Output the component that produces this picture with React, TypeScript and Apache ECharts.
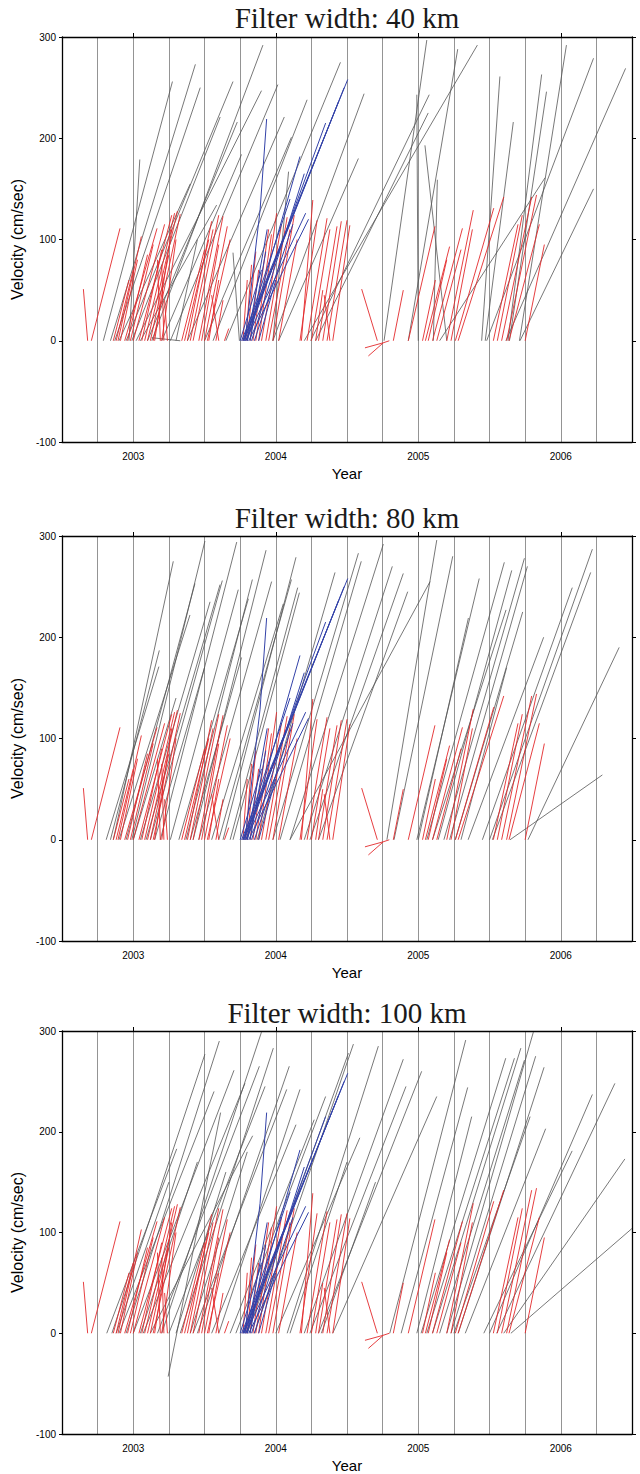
import React, { useEffect, useRef } from "react";
import * as echarts from "echarts";

// ---- data ----
const filterWidths = [40, 80, 100];
const yearLabels = [2003, 2004, 2005, 2006];

// segments: [startYear, startVelocity, endYear, endVelocity]
const redSegments = [
  [2002.65, 51, 2002.68, 0], [2002.706, 0, 2002.907, 111],
  [2002.86, 0, 2002.97, 60], [2002.88, 0, 2003.0, 70], [2002.893, 0, 2003.057, 103],
  [2002.91, 0, 2003.03, 80], [2002.94, 0, 2003.167, 111], [2002.96, 0, 2003.1, 85],
  [2002.98, 0, 2003.14, 95], [2003.0, 0, 2003.22, 115], [2003.04, 0, 2003.27, 124],
  [2003.06, 0, 2003.2, 90], [2003.08, 0, 2003.29, 126], [2003.1, 0, 2003.31, 128],
  [2003.12, 0, 2003.25, 85], [2003.14, 0, 2003.33, 125], [2003.17, 80, 2003.19, 0],
  [2003.2, 75, 2003.215, 0], [2003.15, 0, 2003.27, 110], [2003.2, 0, 2003.3, 100],
  [2003.22, 40, 2003.24, 0],
  [2003.34, 0, 2003.5, 90], [2003.36, 0, 2003.53, 100], [2003.38, 0, 2003.55, 118],
  [2003.4, 0, 2003.56, 110], [2003.42, 0, 2003.6, 124], [2003.46, 0, 2003.63, 123],
  [2003.48, 0, 2003.6, 95], [2003.5, 0, 2003.66, 113], [2003.52, 0, 2003.68, 100],
  [2003.53, 0, 2003.6, 60], [2003.55, 45, 2003.6, 0], [2003.58, 0, 2003.63, 40],
  [2003.64, 0, 2003.67, 12],
  [2003.77, 0, 2003.8, 60], [2003.79, 0, 2003.83, 75], [2003.8, 0, 2003.86, 88],
  [2003.82, 0, 2003.88, 70], [2003.84, 0, 2003.95, 110], [2003.86, 0, 2003.97, 105],
  [2003.88, 0, 2004.006, 126], [2003.9, 0, 2004.04, 115], [2003.93, 0, 2004.08, 122],
  [2003.95, 0, 2004.1, 110], [2003.98, 0, 2004.13, 124], [2004.02, 0, 2004.15, 100],
  [2004.17, 0, 2004.29, 119], [2004.18, 0, 2004.26, 139], [2004.22, 0, 2004.36, 121],
  [2004.25, 0, 2004.38, 110], [2004.3, 0, 2004.43, 113], [2004.33, 0, 2004.46, 118],
  [2004.36, 0, 2004.5, 119], [2004.4, 0, 2004.52, 114], [2004.34, 45, 2004.38, 0],
  [2004.28, 0, 2004.33, 50],
  [2004.603, 51, 2004.713, 0], [2004.626, -7, 2004.755, -2], [2004.65, -15, 2004.755, -2],
  [2004.755, -2, 2004.797, 0], [2004.825, 0, 2004.895, 50],
  [2004.93, 0, 2005.117, 113], [2005.03, 0, 2005.12, 60], [2005.05, 0, 2005.22, 93],
  [2005.07, 0, 2005.2, 80], [2005.1, 0, 2005.31, 111], [2005.13, 0, 2005.3, 90],
  [2005.2, 0, 2005.386, 129], [2005.23, 0, 2005.38, 110], [2005.26, 0, 2005.53, 131],
  [2005.28, 0, 2005.6, 142],
  [2005.527, 0, 2005.7, 115], [2005.555, 0, 2005.73, 124], [2005.585, 0, 2005.796, 142],
  [2005.62, 0, 2005.83, 144], [2005.637, 0, 2005.85, 115], [2005.75, 0, 2005.885, 95],
];

const blueSegments = [
  [2003.76, 0, 2004.505, 258], [2003.77, 0, 2004.48, 250], [2003.775, 0, 2004.44, 236],
  [2003.79, 0, 2004.35, 215], [2003.784, 0, 2003.89, 129], [2003.89, 129, 2003.936, 219],
  [2003.8, 0, 2004.17, 182], [2003.79, 0, 2004.21, 126], [2003.81, 0, 2004.23, 120],
  [2003.77, 0, 2004.1, 140], [2003.8, 0, 2003.94, 110], [2003.82, 0, 2003.93, 88],
  [2003.78, 0, 2004.05, 100], [2003.83, 0, 2004.2, 165], [2003.85, 0, 2004.12, 115],
  [2003.88, 0, 2004.0, 60], [2003.75, 0, 2003.9, 70],
];

const gray40 = [
  [2002.79, 0, 2003.275, 256], [2002.97, 0, 2003.046, 179], [2002.84, 0, 2003.436, 273],
  [2002.87, 0, 2003.47, 250], [2002.9, 0, 2003.4, 155], [2002.95, 0, 2003.7, 256],
  [2002.99, 0, 2003.61, 221], [2003.02, 0, 2003.9, 247], [2003.05, 0, 2003.585, 134],
  [2003.1, 0, 2003.73, 216], [2003.13, 0, 2003.91, 292], [2003.13, 3, 2003.33, 0],
  [2003.2, 0, 2003.76, 184], [2003.26, 0, 2004.015, 253], [2003.38, 0, 2004.06, 221],
  [2003.5, 0, 2004.11, 201], [2003.56, 0, 2004.22, 238], [2003.7, 87, 2003.745, 0],
  [2003.65, 0, 2004.454, 275], [2003.98, 0, 2004.62, 244], [2004.02, 0, 2004.58, 180],
  [2003.98, 0, 2004.09, 167], [2004.245, 0, 2005.077, 243], [2004.28, 0, 2005.07, 225],
  [2004.2, 0, 2005.415, 292], [2004.76, 0, 2005.06, 297], [2004.99, 243, 2005.0, 0],
  [2005.047, 193, 2005.2, 0], [2005.134, 159, 2005.106, 0], [2004.93, 0, 2005.277, 288],
  [2005.15, 0, 2005.89, 161], [2005.445, 0, 2005.573, 261], [2005.47, 0, 2005.667, 216],
  [2005.63, 0, 2005.866, 263], [2005.64, 0, 2005.9, 246], [2005.48, 0, 2006.23, 279],
  [2005.615, 0, 2006.455, 269], [2005.71, 0, 2006.04, 292], [2005.714, 0, 2006.23, 150],
  [2003.3, 0, 2003.45, 100],
];

const gray80 = [
  [2002.81, 0, 2003.18, 171], [2002.84, 0, 2003.183, 187], [2002.86, 0, 2003.281, 275],
  [2002.9, 0, 2003.398, 222], [2002.95, 0, 2003.433, 253], [2002.99, 0, 2003.503, 295],
  [2003.05, 0, 2003.539, 235], [2003.09, 0, 2003.609, 252], [2003.12, 0, 2003.625, 256],
  [2003.19, 0, 2003.726, 294], [2003.26, 0, 2003.737, 247], [2003.32, 0, 2003.808, 238],
  [2003.37, 0, 2003.836, 257], [2003.42, 0, 2003.932, 286], [2003.46, 0, 2003.971, 255],
  [2003.55, 0, 2004.053, 233], [2003.6, 0, 2004.11, 257], [2003.63, 0, 2004.142, 279],
  [2003.68, 0, 2004.154, 249], [2003.7, 0, 2004.166, 244], [2003.87, 0, 2004.416, 264],
  [2003.98, 0, 2004.58, 283], [2004.03, 0, 2004.6, 275], [2004.1, 0, 2004.755, 292],
  [2004.2, 0, 2004.818, 270], [2004.24, 0, 2004.895, 263], [2004.3, 0, 2004.926, 245],
  [2004.1, 0, 2005.083, 255], [2004.78, 0, 2005.13, 296], [2004.83, 0, 2005.242, 280],
  [2004.99, 0, 2005.428, 258], [2005.0, 0, 2005.352, 219], [2005.06, 0, 2005.604, 274],
  [2005.1, 0, 2005.616, 227], [2005.14, 0, 2005.656, 266], [2005.18, 0, 2005.745, 278],
  [2005.22, 0, 2005.766, 270], [2005.26, 0, 2005.733, 225], [2005.45, 0, 2006.081, 249],
  [2005.5, 0, 2006.222, 287], [2005.52, 0, 2006.21, 264], [2005.77, 0, 2006.41, 190],
  [2005.644, 0, 2006.292, 64], [2003.0, 0, 2003.3, 140], [2003.15, 0, 2003.5, 170],
  [2003.4, 0, 2003.76, 180], [2005.3, 0, 2005.62, 170], [2005.35, 0, 2005.88, 200],
];

const gray100 = [
  [2002.814, 0, 2003.305, 183], [2002.85, 0, 2003.503, 277], [2002.9, 0, 2003.567, 240],
  [2002.95, 0, 2003.604, 290], [2003.245, -43, 2003.613, 219], [2003.0, 0, 2003.707, 261],
  [2003.07, 0, 2003.784, 248], [2003.12, 0, 2003.838, 196], [2003.17, 0, 2003.885, 265],
  [2003.2, 0, 2003.9, 299], [2003.25, 0, 2003.925, 245], [2003.33, 0, 2003.983, 283],
  [2003.42, 0, 2004.077, 242], [2003.45, 0, 2004.095, 265], [2003.55, 0, 2004.142, 207],
  [2003.6, 0, 2004.17, 242], [2003.68, 0, 2004.27, 212], [2003.72, 0, 2004.35, 235],
  [2003.8, 0, 2004.51, 278], [2003.85, 0, 2004.545, 287], [2004.0, 0, 2004.59, 194],
  [2004.08, 0, 2004.72, 285], [2004.2, 0, 2004.895, 272], [2004.24, 0, 2004.914, 245],
  [2004.3, 0, 2005.024, 260], [2004.4, 0, 2005.13, 235], [2004.8, 0, 2005.333, 291],
  [2004.88, 0, 2005.347, 244], [2004.99, 0, 2005.375, 215], [2005.02, 0, 2005.614, 273],
  [2005.06, 0, 2005.675, 273], [2005.1, 0, 2005.72, 283], [2005.15, 0, 2005.745, 271],
  [2005.25, 0, 2005.785, 215], [2005.2, 0, 2005.808, 299], [2005.23, 0, 2005.824, 275],
  [2005.28, 0, 2005.883, 264], [2005.33, 0, 2005.894, 203], [2005.46, 0, 2006.08, 181],
  [2005.5, 0, 2006.222, 237], [2005.55, 0, 2006.38, 248], [2005.6, 0, 2006.45, 173],
  [2005.65, 0, 2006.5, 104], [2002.88, 0, 2003.25, 150], [2003.05, 0, 2003.45, 170],
  [2003.3, 0, 2003.65, 160], [2003.4, 0, 2003.8, 180], [2004.1, 0, 2004.5, 170],
  [2004.32, 0, 2004.7, 150],
];

const grayByPanel = [gray40, gray80, gray100];

// ---- layout ----
const W = 640;
const H = 1474;
const panelTops = [37, 536, 1031];
const titleTops = [3, 503, 998];
const plotLeft = 62;
const plotRight = 8;
const plotHeight = 405;
const SANS = "'Liberation Sans', Arial, Helvetica, sans-serif";
const SERIF = "'Liberation Serif', 'Times New Roman', serif";

function segSeries(data: number[][], color: string, width: number, idx: number, z: number) {
  return {
    type: "custom",
    xAxisIndex: idx * 2,
    yAxisIndex: idx * 2,
    clip: true,
    z,
    silent: true,
    encode: { x: [0, 2], y: [1, 3] },
    data,
    renderItem: (_params: any, api: any) => {
      const p0 = api.coord([api.value(0), api.value(1)]);
      const p1 = api.coord([api.value(2), api.value(3)]);
      return {
        type: "line",
        shape: { x1: p0[0], y1: p0[1], x2: p1[0], y2: p1[1] },
        style: { stroke: color, lineWidth: width, fill: null },
      };
    },
  };
}

export default function App() {
  const ref = useRef<HTMLDivElement>(null);
  useEffect(() => {
    document.body.style.margin = "0";
    if (!ref.current) return;
    const chart = echarts.init(ref.current, null, { renderer: "svg" });
    const grids: any[] = [];
    const xAxes: any[] = [];
    const yAxes: any[] = [];
    const series: any[] = [];
    const titles: any[] = [];
    filterWidths.forEach((w, i) => {
      grids.push({ left: plotLeft, right: plotRight, top: panelTops[i], height: plotHeight, show: false });
      titles.push({
        text: `Filter width: ${w} km`,
        left: plotLeft + (W - plotLeft - plotRight) / 2,
        top: titleTops[i],
        padding: 0,
        textAlign: "center",
        textStyle: { fontFamily: SERIF, fontSize: 29, fontWeight: "normal", color: "#1a1a1a" },
      });
      xAxes.push({
        type: "value",
        gridIndex: i,
        position: "bottom",
        min: 2002.5,
        max: 2006.5,
        interval: 0.25,
        axisLine: { show: true, onZero: false, lineStyle: { color: "#000", width: 1.3 } },
        axisTick: { show: false },
        axisLabel: {
          color: "#000",
          fontFamily: SANS,
          fontSize: 10,
          margin: 9,
          showMinLabel: false,
          showMaxLabel: false,
          formatter: (v: number) => (yearLabels.includes(Math.round(v * 1000) / 1000) ? String(Math.round(v)) : ""),
        },
        splitLine: { show: true, lineStyle: { color: "#949494", width: 1 } },
        name: "Year",
        nameLocation: "middle",
        nameGap: 24,
        nameTextStyle: { fontFamily: SANS, fontSize: 15, color: "#000" },
      });
      xAxes.push({
        type: "value",
        gridIndex: i,
        position: "top",
        min: 2002.5,
        max: 2006.5,
        interval: 0.25,
        axisLine: { show: true, onZero: false, lineStyle: { color: "#000", width: 1.3 } },
        axisTick: { show: true, customValues: yearLabels, length: 4, lineStyle: { color: "#000" } },
        axisLabel: { show: false },
        splitLine: { show: false },
      });
      yAxes.push({
        type: "value",
        gridIndex: i,
        position: "left",
        min: -100,
        max: 300,
        interval: 100,
        axisLine: { show: true, onZero: false, lineStyle: { color: "#000", width: 1.3 } },
        axisTick: { show: true, length: 3, lineStyle: { color: "#000" } },
        axisLabel: { color: "#000", fontFamily: SANS, fontSize: 10, margin: 6 },
        splitLine: { show: false },
        name: "Velocity (cm/sec)",
        nameLocation: "middle",
        nameGap: 28,
        nameRotate: 90,
        nameTextStyle: { fontFamily: SANS, fontSize: 16, color: "#000" },
      });
      yAxes.push({
        type: "value",
        gridIndex: i,
        position: "right",
        min: -100,
        max: 300,
        interval: 100,
        axisLine: { show: true, onZero: false, lineStyle: { color: "#000", width: 1.3 } },
        axisTick: { show: true, length: 4, lineStyle: { color: "#000" } },
        axisLabel: { show: false },
        splitLine: { show: false },
      });
      series.push(segSeries(grayByPanel[i], "#555555", 0.8, i, 2));
      series.push(segSeries(redSegments, "#e3292b", 0.9, i, 3));
      series.push(segSeries(blueSegments, "#3342a8", 1, i, 4));
    });
    chart.setOption({
      animation: false,
      backgroundColor: "#fff",
      title: titles,
      grid: grids,
      xAxis: xAxes,
      yAxis: yAxes,
      series,
    });
    return () => chart.dispose();
  }, []);
  return <div ref={ref} style={{ width: W, height: H }} />;
}
